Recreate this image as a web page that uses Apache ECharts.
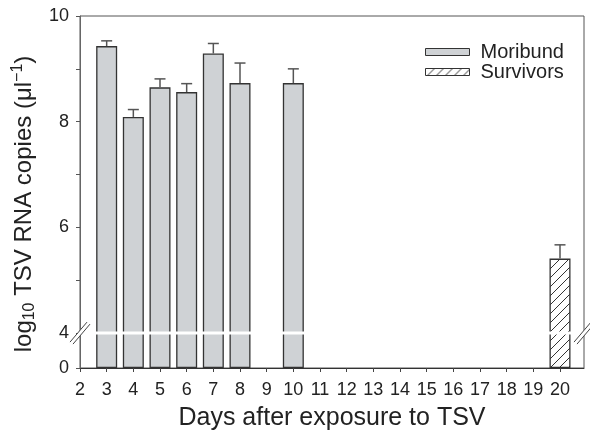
<!DOCTYPE html>
<html><head><meta charset="utf-8">
<script src="https://cdn.jsdelivr.net/npm/echarts@6/dist/echarts.min.js"></script>
<style>html,body{margin:0;padding:0;background:#fff}#c{width:590px;height:437px}</style>
</head><body><div id="c"></div>
<script>
// ---- data ----
const days = [3, 4, 5, 6, 7, 8, 10];
const moribund = [9.43, 8.09, 8.65, 8.56, 9.29, 8.73, 8.73];
const moribundErr = [0.10, 0.14, 0.16, 0.16, 0.19, 0.38, 0.27];
const survivorDays = [20];
const survivors = [5.41];
const survivorsErr = [0.26];
const xTicks = [2,3,4,5,6,7,8,9,10,11,12,13,14,15,16,17,18,19,20];
const yTickLabels = [0, 4, 6, 8, 10];
const yMinorTicks = [5, 7, 9];

// ---- broken y-axis transform ----
const B = 35 / 53; // display height of the 0-4 segment (in units of the upper scale)
const T = v => v >= 4 ? v - 4 + B : v * B / 4;
const Tinv = t => t >= B - 1e-9 ? t + 4 - B : t * 4 / B;

const FONT = 'Liberation Sans, Arial, Helvetica, sans-serif';
const C_TXT = '#222';

// hatch pattern
const pat = document.createElement('canvas');
pat.width = 9; pat.height = 9;
(function(){
  const g = pat.getContext('2d');
  g.fillStyle = '#fff'; g.fillRect(0,0,9,9);
  g.strokeStyle = '#333'; g.lineWidth = 1;
  g.beginPath();
  g.moveTo(0,9); g.lineTo(9,0);
  g.moveTo(-1,1); g.lineTo(1,-1);
  g.moveTo(8,10); g.lineTo(10,8);
  g.stroke();
})();

const morData = days.map((d,i) => [d, T(moribund[i])]);
const surData = survivorDays.map((d,i) => [d, T(survivors[i])]);
const errData = days.map((d,i) => [d, T(moribund[i]), T(moribund[i] + moribundErr[i])])
  .concat(survivorDays.map((d,i) => [d, T(survivors[i]), T(survivors[i] + survivorsErr[i])]));

const chart = echarts.init(document.getElementById('c'), null, {renderer: 'canvas'});

function errRender(params, api) {
  const x = api.value(0);
  const p0 = api.coord([x, api.value(1)]);
  const p1 = api.coord([x, api.value(2)]);
  const st = {stroke: '#555', lineWidth: 1.5};
  return {type: 'group', children: [
    {type: 'line', shape: {x1: p0[0], y1: p0[1], x2: p1[0], y2: p1[1]}, style: st},
    {type: 'line', shape: {x1: p1[0] - 5.5, y1: p1[1], x2: p1[0] + 5.5, y2: p1[1]}, style: st}
  ]};
}

function breakRender(params, api) {
  const cs = params.coordSys;
  const y = api.coord([2, T(4)])[1];
  const kids = [
    {type: 'rect', shape: {x: cs.x + 1, y: y - 1.5, width: cs.width - 2, height: 3}, style: {fill: '#fff'}}
  ];
  [cs.x, cs.x + cs.width].forEach(xc => {
    kids.push({type: 'polygon', shape: {points: [[xc - 9, y + 10], [xc - 5, y + 10], [xc + 9, y - 10], [xc + 5, y - 10]]}, style: {fill: '#fff'}});
    kids.push({type: 'line', shape: {x1: xc - 10, y1: y + 9, x2: xc + 7, y2: y - 11}, style: {stroke: '#444', lineWidth: 1}});
    kids.push({type: 'line', shape: {x1: xc - 7, y1: y + 11, x2: xc + 10, y2: y - 9}, style: {stroke: '#444', lineWidth: 1}});
  });
  return {type: 'group', children: kids};
}

chart.setOption({
  animation: false,
  backgroundColor: '#fff',
  grid: {left: 80, right: 6, top: 16, bottom: 69, show: true, borderColor: '#555', borderWidth: 1},
  legend: {
    orient: 'vertical', left: 425, top: 42, padding: 0,
    itemWidth: 44, itemHeight: 7, itemGap: 0, icon: 'rect',
    itemStyle: {borderWidth: 1, borderColor: '#333'},
    textStyle: {fontFamily: FONT, fontSize: 20, lineHeight: 20, color: C_TXT, padding: [0,0,0,6]},
    data: ['Moribund', 'Survivors']
  },
  xAxis: {
    type: 'value', min: 2, max: 20.9,
    name: 'Days after exposure to TSV', nameLocation: 'middle', nameGap: 38,
    nameTextStyle: {fontFamily: FONT, fontSize: 25, color: C_TXT},
    axisLine: {lineStyle: {color: '#333', width: 1}},
    axisTick: {show: true, length: 4, lineStyle: {color: '#444'}, customValues: xTicks},
    axisLabel: {fontFamily: FONT, fontSize: 18, color: C_TXT, margin: 13, customValues: xTicks},
    splitLine: {show: false}
  },
  yAxis: {
    type: 'value', min: 0, max: T(10),
    name: '{a|log}{s|10}{a| TSV RNA copies (μl}{p|−1}{a|)}',
    nameLocation: 'middle', nameGap: 34, nameRotate: 90,
    nameTextStyle: {fontFamily: FONT, fontSize: 24, color: C_TXT, padding: [0, 24, 0, 0],
      rich: {
        a: {fontFamily: FONT, fontSize: 24, color: C_TXT},
        s: {fontFamily: FONT, fontSize: 16, color: C_TXT, padding: [12,0,0,0]},
        p: {fontFamily: FONT, fontSize: 16, color: C_TXT, padding: [0,0,12,0]}
      }},
    axisLine: {show: true, lineStyle: {color: '#666', width: 1}},
    axisTick: {show: true, length: 4, lineStyle: {color: '#555'},
      customValues: yTickLabels.concat(yMinorTicks).map(T)},
    axisLabel: {fontFamily: FONT, fontSize: 18, color: C_TXT, margin: 11,
      customValues: yTickLabels.map(T),
      formatter: v => String(Math.round(Tinv(v)))},
    splitLine: {show: false}
  },
  series: [
    {
      name: 'Moribund', type: 'bar', data: morData, barWidth: 21, barGap: '-100%',
      itemStyle: {color: '#cfd2d5', borderColor: '#333', borderWidth: 1.3}, z: 2
    },
    {
      name: 'Survivors', type: 'bar', data: surData, barWidth: 21, barGap: '-100%',
      itemStyle: {color: {image: pat, repeat: 'repeat'}, borderColor: '#333', borderWidth: 1.3}, z: 2
    },
    {
      name: 'err', type: 'custom', data: errData, renderItem: errRender,
      encode: {x: 0, y: [1, 2]}, z: 3, silent: true
    },
    {
      name: 'break', type: 'custom', data: [[2, T(4)]], renderItem: breakRender,
      encode: {x: 0, y: 1}, clip: false, z: 4, silent: true
    }
  ]
});
</script>
</body></html>
